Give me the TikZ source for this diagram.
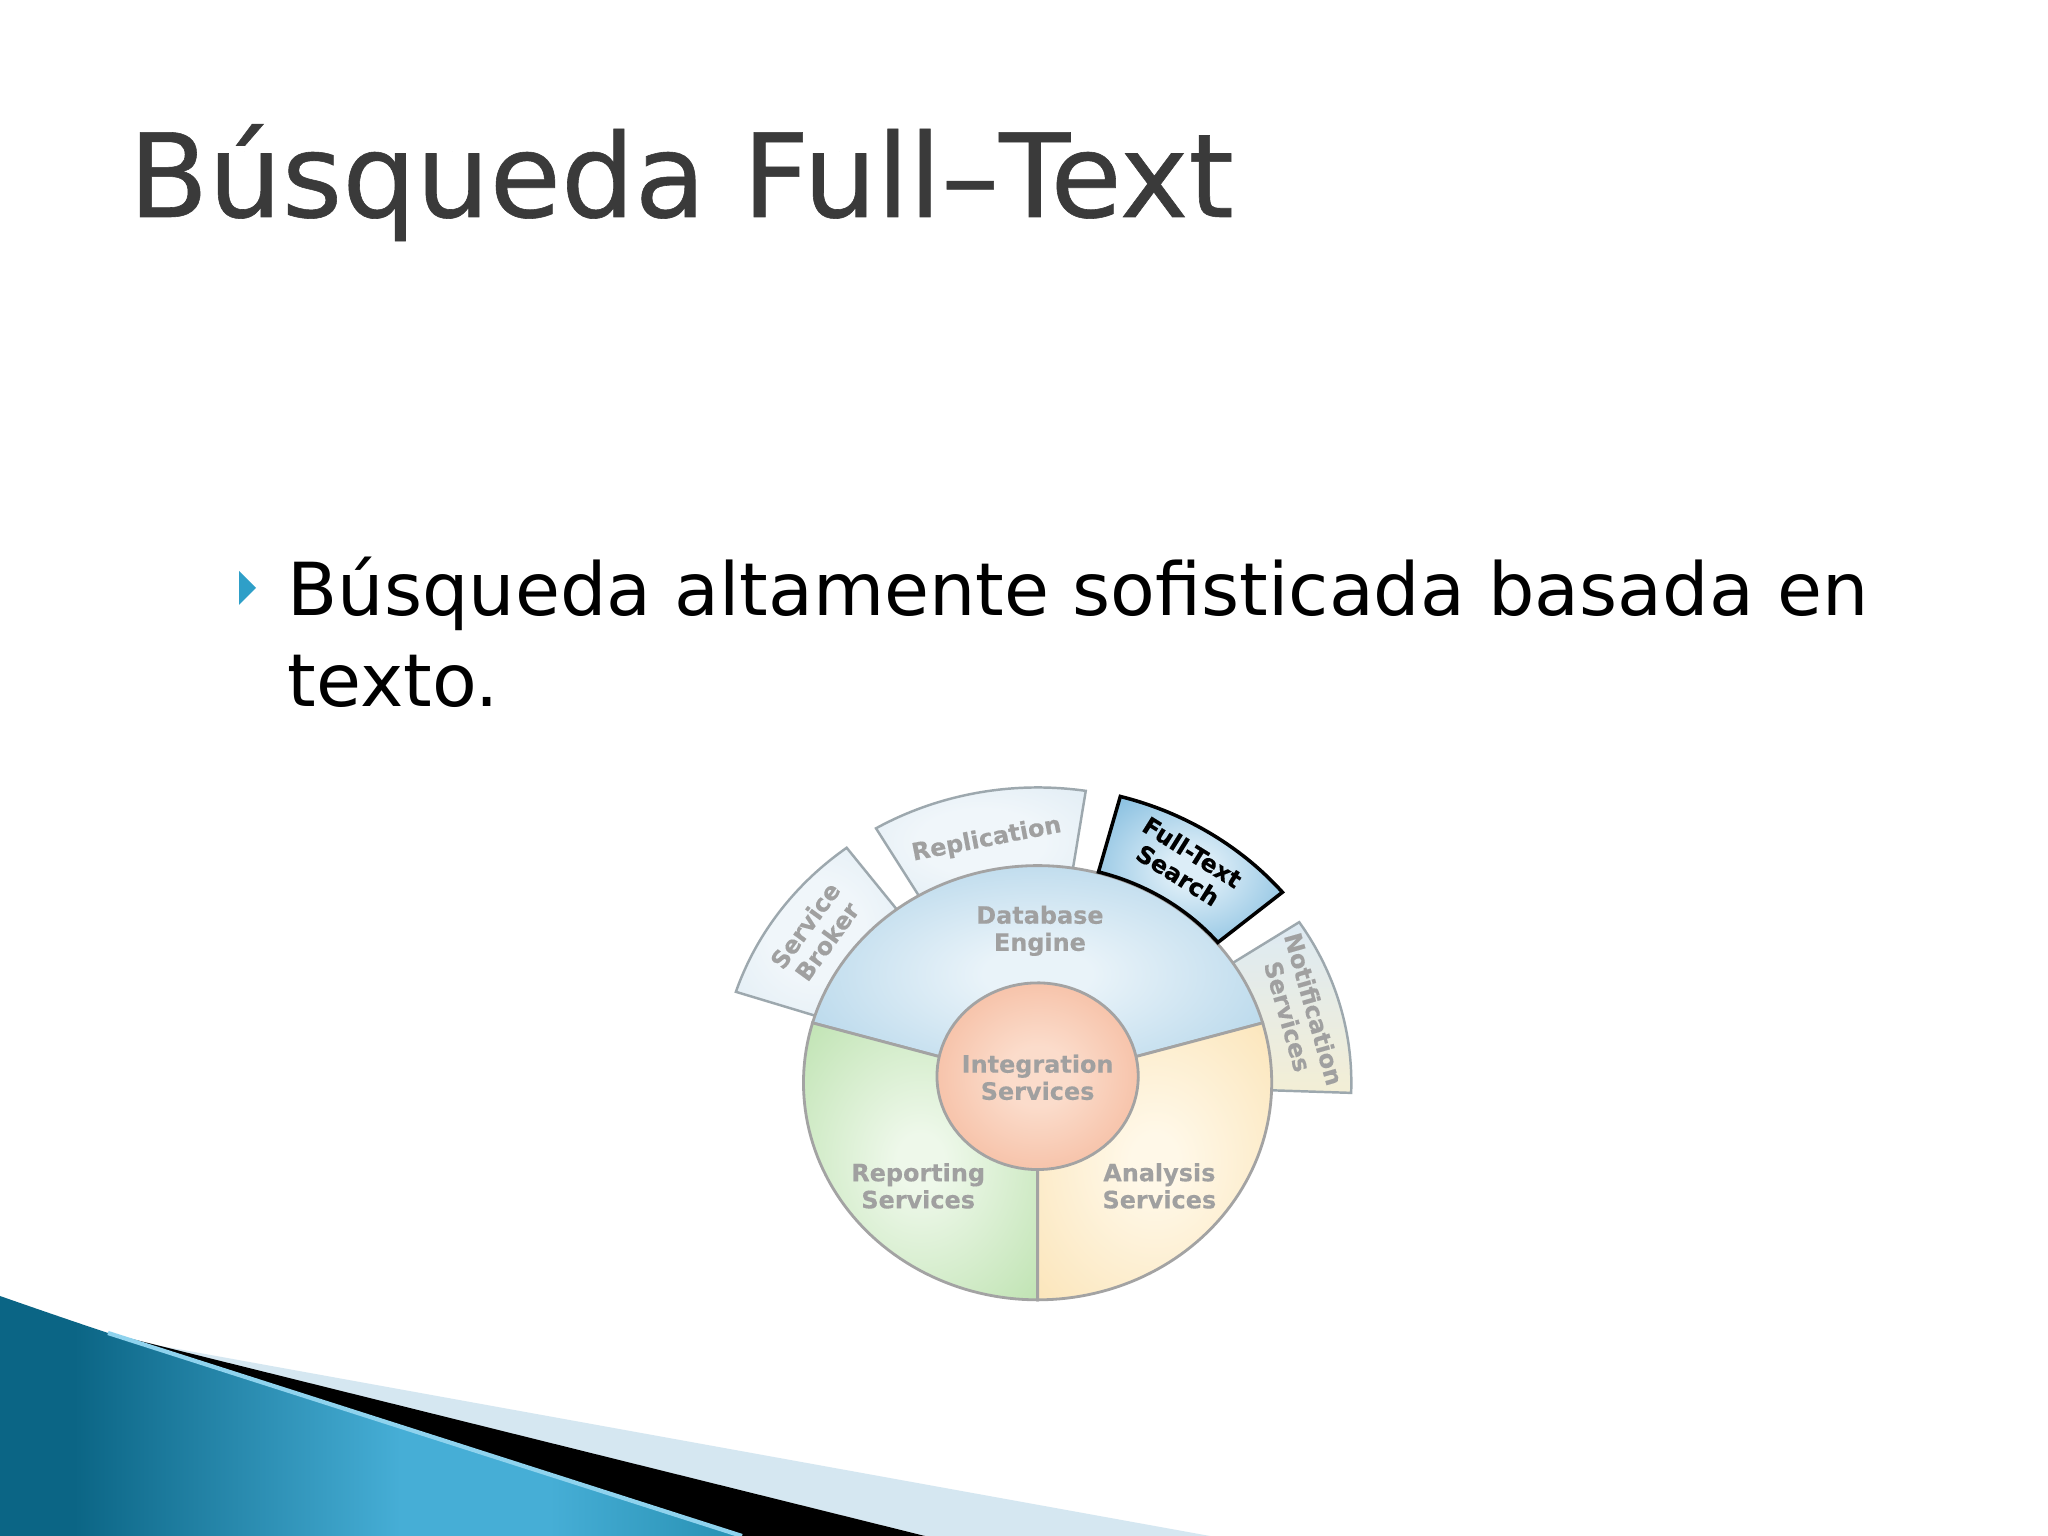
\documentclass[tikz,border=0pt]{standalone}
\usepackage{fontspec}
\setmainfont{DejaVu Sans}
\newfontfamily\titlefont[FakeBold=0.5]{DejaVu Sans}
\newfontfamily\labfont[FakeBold=0.3]{DejaVu Sans Bold}
\definecolor{titlegray}{HTML}{3A3A3A}
\definecolor{bullblue}{HTML}{2E9FC8}
\definecolor{tealdark}{HTML}{0B6585}
\definecolor{tealmid}{HTML}{17809F}
\definecolor{teallight}{HTML}{46AED6}
\definecolor{tealhi}{HTML}{8FD3EE}
\definecolor{paleblue}{HTML}{D5E7F1}
\definecolor{lineg}{HTML}{A3A3A3}
\definecolor{segline}{HTML}{9DA8AE}
\definecolor{labg}{HTML}{A0A0A0}
\definecolor{dbin}{HTML}{E9F3F9}
\definecolor{dbout}{HTML}{A6CEE6}
\definecolor{rsin}{HTML}{EEF8EA}
\definecolor{rsout}{HTML}{BFE3B2}
\definecolor{asin}{HTML}{FFF8E8}
\definecolor{asout}{HTML}{FBE5BA}
\definecolor{isin}{HTML}{FBDCCB}
\definecolor{isout}{HTML}{F2A785}
\definecolor{sgin}{HTML}{F0F6FA}
\definecolor{sgout}{HTML}{D8E7F1}
\definecolor{ftin}{HTML}{DCEDF7}
\definecolor{ftout}{HTML}{66ADD7}
\definecolor{nstop}{HTML}{DDEAF3}
\definecolor{nsbot}{HTML}{F3EED5}
\pgfdeclareradialshading{dbshade}{\pgfpoint{0bp}{0bp}}{color(0bp)=(dbin); color(6bp)=(dbin); color(38bp)=(dbout); color(50bp)=(dbout)}
\pgfdeclareradialshading{rsshade}{\pgfpoint{0bp}{0bp}}{color(0bp)=(rsin); color(5bp)=(rsin); color(36bp)=(rsout); color(50bp)=(rsout)}
\pgfdeclareradialshading{asshade}{\pgfpoint{0bp}{0bp}}{color(0bp)=(asin); color(5bp)=(asin); color(36bp)=(asout); color(50bp)=(asout)}
\pgfdeclareradialshading{isshade}{\pgfpoint{0bp}{0bp}}{color(0bp)=(isin); color(8bp)=(isin); color(45bp)=(isout); color(50bp)=(isout)}
\pgfdeclareradialshading{sgshade}{\pgfpoint{0bp}{0bp}}{color(0bp)=(sgin); color(15bp)=(sgin); color(50bp)=(sgout)}
\pgfdeclareradialshading{ftshade}{\pgfpoint{0bp}{0bp}}{color(0bp)=(ftin); color(6bp)=(ftin); color(42bp)=(ftout); color(50bp)=(ftout)}
\pgfdeclarehorizontalshading{tealshade}{100bp}{color(0bp)=(tealdark); color(30bp)=(tealdark); color(52bp)=(teallight); color(62bp)=(teallight); color(82bp)=(tealmid); color(100bp)=(tealdark)}
\tikzset{
  lab/.style={font=\fontsize{6.8}{7.7}\selectfont\labfont, text=labg, align=center, inner sep=0pt},
  seg/.style={draw=segline, line width=0.7pt, line join=miter},
  wedge/.style={draw=lineg, line width=0.8pt},
}
\begin{document}
\begin{tikzpicture}[x=0.01cm,y=0.01cm]
\useasboundingbox (0,0) rectangle (2048,1536);
\fill[white] (0,0) rectangle (2048,1536);

% bottom-left decoration
\fill[paleblue] (150,192) -- (1210,0) -- (925,0) -- cycle;
\fill[black] (108,203) -- (925,0) -- (742,0) -- cycle;
\path[shading=tealshade]
  (0,240) .. controls (40,226) and (78,213) .. (108,203) -- (742,0) -- (0,0) -- cycle;
\draw[tealhi, line width=1.2pt] (108,203) -- (742,0);

% title and bullet
\node[anchor=base west, inner sep=0pt, text=titlegray, font=\fontsize{33}{40}\selectfont\titlefont] (title) at (128,1319) {Búsqueda Full–Text};
\fill[bullblue] (239,965) -- (256,948) -- (239,931) -- cycle;
\node[anchor=base west, inner sep=0pt, font=\fontsize{20.8}{26}\selectfont] (body1) at (287,920) {Búsqueda altamente sofisticada basada en};
\node[anchor=base west, inner sep=0pt, font=\fontsize{20.8}{26}\selectfont] (body2) at (287,829) {texto.};

% diagram
\begin{scope}[shift={(10.37cm,4.53cm)}, x=2.34cm, y=2.17cm]
  % outer ring segments
  \path[seg, shading=sgshade] (127:1) -- plot[domain=127:162,samples=40] (\x:1.355) -- (162:1) -- cycle;
  \path[seg, shading=sgshade] (81.3:1) -- plot[domain=81.3:120.5,samples=40] (\x:1.36) -- (120.5:1) -- cycle;
  \path[seg, top color=nstop, bottom color=nsbot] (-2:1) -- plot[domain=-2:33.5,samples=40] (\x:1.34) -- (33.5:1) -- cycle;
  % main wedges
  \path[wedge, shading=dbshade] (0,0) -- plot[domain=16:164,samples=80] (\x:1) -- cycle;
  \path[wedge, shading=rsshade] (0,0) -- plot[domain=164:270,samples=60] (\x:1) -- cycle;
  \path[wedge, shading=asshade] (0,0) -- plot[domain=270:376,samples=60] (\x:1) -- cycle;
  % full-text segment (highlighted)
  \path[draw=black, line width=1pt, line join=miter, shading=ftshade]
    plot[domain=40:75,samples=40] (\x:1.005) -- plot[domain=75:40,samples=40] (\x:1.365) -- cycle;
  % inner circle
  \path[wedge, shading=isshade] plot[domain=0:360,samples=90] ({0.43*cos(\x)},{0.03+0.43*sin(\x)}) -- cycle;
  % labels
  \node[lab] (db) at (0.01,0.70) {Database\\Engine};
  \node[lab] (is) at (0,0.025) {Integration\\Services};
  \node[lab] (rs) at (-0.51,-0.475) {Reporting\\Services};
  \node[lab] (as) at (0.52,-0.475) {Analysis\\Services};
  \node[lab, rotate=54] (sb) at (144:1.17) {Service\\Broker};
  \node[lab, rotate=11] (rep) at (101:1.14) {Replication};
  \node[lab, rotate=-32, text=black] (fts) at (58:1.19) {Full-Text\\Search};
  \node[lab, rotate=-74] (ns) at (16:1.17) {Notification\\Services};
\end{scope}
\end{tikzpicture}
\end{document}
